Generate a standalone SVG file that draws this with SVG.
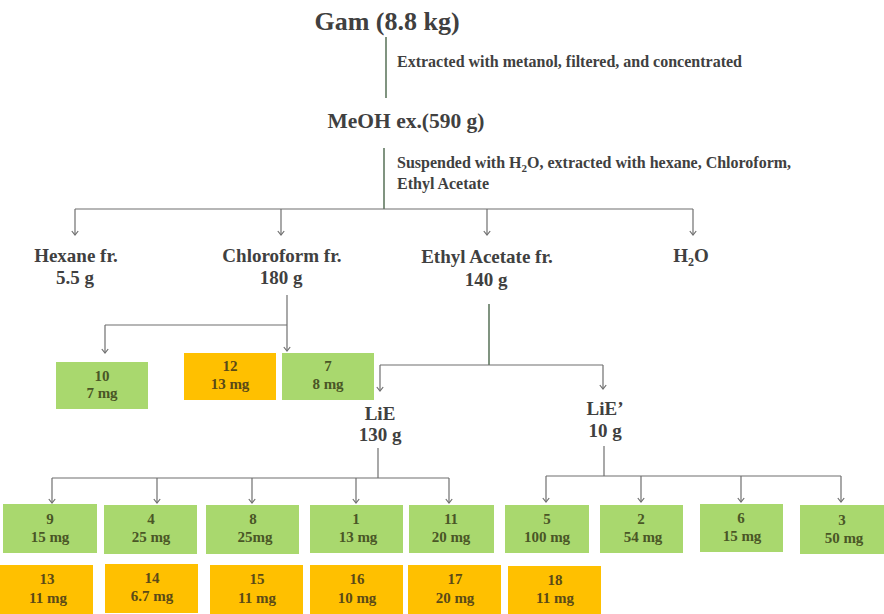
<svg xmlns="http://www.w3.org/2000/svg" width="884" height="614" viewBox="0 0 884 614" font-family="Liberation Serif, DejaVu Serif, serif">
<defs>
<marker id="ah" markerUnits="userSpaceOnUse" markerWidth="8" markerHeight="8" refX="7" refY="4" orient="auto" viewBox="0 0 8 8">
<path d="M3,0.8 L7,4 L3,7.2" fill="none" stroke="#6f6f6f" stroke-width="1.2"/>
</marker>
</defs>
<style>
text{font-family:'Liberation Serif','DejaVu Serif',serif;font-weight:700;fill:#404040;text-anchor:middle}
.note{text-anchor:start;font-size:16px}
.lbl{font-size:19px}
.bx{font-size:15px;fill:#4a5626}
.bo{font-size:15px;fill:#5a4a18}
.g{fill:#a9d86e}
.o{fill:#ffc000}
.main{stroke:#3c5a3c;stroke-width:1.3;fill:none}
.c{stroke:#6f6f6f;stroke-width:1.2;fill:none}
.a{stroke:#6f6f6f;stroke-width:1.2;fill:none;marker-end:url(#ah)}
</style>
<rect width="884" height="614" fill="#ffffff"/>
<g id="connectors">
<line class="main" x1="386" y1="37" x2="386" y2="98"/>
<line class="main" x1="384" y1="148" x2="384" y2="209"/>
<line class="c" x1="75" y1="209" x2="693" y2="209"/>
<line class="a" x1="75" y1="209" x2="75" y2="235"/>
<line class="a" x1="281" y1="209" x2="281" y2="235"/>
<line class="a" x1="487" y1="209" x2="487" y2="235"/>
<line class="a" x1="693" y1="209" x2="693" y2="235"/>
<line class="c" x1="287" y1="295" x2="287" y2="325"/>
<line class="c" x1="105" y1="325" x2="287" y2="325"/>
<line class="a" x1="287" y1="325" x2="287" y2="351"/>
<line class="a" x1="105" y1="325" x2="105" y2="353"/>
<line class="main" x1="489" y1="304" x2="489" y2="365"/>
<line class="c" x1="380" y1="365" x2="603" y2="365"/>
<line class="a" x1="380" y1="365" x2="380" y2="391"/>
<line class="a" x1="603" y1="365" x2="603" y2="389"/>
<line class="c" x1="378" y1="448" x2="378" y2="478"/>
<line class="c" x1="52" y1="478" x2="449" y2="478"/>
<line class="a" x1="52" y1="478" x2="52" y2="503"/>
<line class="a" x1="157" y1="478" x2="157" y2="503"/>
<line class="a" x1="252" y1="478" x2="252" y2="503"/>
<line class="a" x1="356" y1="478" x2="356" y2="503"/>
<line class="a" x1="449" y1="478" x2="449" y2="503"/>
<line class="c" x1="604" y1="446" x2="604" y2="476"/>
<line class="c" x1="546" y1="476" x2="841" y2="476"/>
<line class="a" x1="546" y1="476" x2="546" y2="502"/>
<line class="a" x1="641" y1="476" x2="641" y2="502"/>
<line class="a" x1="741" y1="476" x2="741" y2="502"/>
<line class="a" x1="841" y1="476" x2="841" y2="502"/>
</g>
<g id="gam"><text x="387" y="30" font-size="26">Gam (8.8 kg)</text></g>
<g id="note1"><text class="note" x="397" y="67">Extracted with metanol, filtered, and concentrated</text></g>
<g id="meoh"><text x="406" y="128" font-size="21.5">MeOH ex.(590 g)</text></g>
<g id="note2"><text class="note" x="397" y="168">Suspended with H<tspan font-size="11" dy="4">2</tspan><tspan dy="-4">O, extracted with hexane, Chloroform,</tspan></text><text class="note" x="397" y="189">Ethyl Acetate</text></g>
<g id="hexane"><text class="lbl" x="76" y="262">Hexane fr.</text><text class="lbl" x="75" y="284">5.5 g</text></g>
<g id="chloroform"><text class="lbl" x="282" y="262">Chloroform fr.</text><text class="lbl" x="281" y="284">180 g</text></g>
<g id="ethyl"><text class="lbl" x="487" y="263">Ethyl Acetate fr.</text><text class="lbl" x="486" y="286">140 g</text></g>
<g id="water"><text class="lbl" x="691" y="262">H<tspan font-size="12" dy="4">2</tspan><tspan dy="-4">O</tspan></text></g>
<g id="f10"><rect class="g" x="56" y="362" width="92" height="47"/><text class="bx" x="102" y="381">10</text><text class="bx" x="102" y="398">7  mg</text></g>
<g id="f12"><rect class="o" x="184" y="353" width="92" height="47"/><text class="bo" x="230" y="371">12</text><text class="bo" x="230" y="389">13  mg</text></g>
<g id="f7"><rect class="g" x="282" y="353" width="92" height="47"/><text class="bx" x="328" y="371">7</text><text class="bx" x="328" y="389">8 mg</text></g>
<g id="lie"><text class="lbl" x="380" y="420">LiE</text><text class="lbl" x="380" y="441">130 g</text></g>
<g id="lie2"><text class="lbl" x="605" y="415">LiE’</text><text class="lbl" x="605" y="437">10 g</text></g>
<g id="f9"><rect class="g" x="3" y="504" width="94" height="49"/><text class="bx" x="50" y="524">9</text><text class="bx" x="50" y="542">15 mg</text></g>
<g id="f4"><rect class="g" x="104" y="505" width="93" height="49"/><text class="bx" x="151" y="524">4</text><text class="bx" x="151" y="542">25 mg</text></g>
<g id="f8"><rect class="g" x="206" y="505" width="93" height="49"/><text class="bx" x="253" y="524">8</text><text class="bx" x="255" y="542">25mg</text></g>
<g id="f1"><rect class="g" x="310" y="505" width="93" height="48"/><text class="bx" x="356" y="524">1</text><text class="bx" x="358" y="542">13 mg</text></g>
<g id="f11"><rect class="g" x="409" y="505" width="85" height="48"/><text class="bx" x="451" y="524">11</text><text class="bx" x="451" y="542">20 mg</text></g>
<g id="f5"><rect class="g" x="505" y="505" width="84" height="48"/><text class="bx" x="547" y="524">5</text><text class="bx" x="547" y="542">100 mg</text></g>
<g id="f2"><rect class="g" x="600" y="505" width="83" height="48"/><text class="bx" x="641" y="524">2</text><text class="bx" x="643" y="542">54 mg</text></g>
<g id="f6"><rect class="g" x="700" y="504" width="83" height="48"/><text class="bx" x="741" y="523">6</text><text class="bx" x="742" y="541">15 mg</text></g>
<g id="f3"><rect class="g" x="800" y="505" width="84" height="49"/><text class="bx" x="842" y="525">3</text><text class="bx" x="844" y="543">50 mg</text></g>
<g id="f13"><rect class="o" x="0" y="565" width="93" height="49"/><text class="bo" x="47" y="584">13</text><text class="bo" x="48" y="603">11 mg</text></g>
<g id="f14"><rect class="o" x="105" y="564" width="93" height="49"/><text class="bo" x="152" y="583">14</text><text class="bo" x="152" y="601">6.7 mg</text></g>
<g id="f15"><rect class="o" x="210" y="565" width="93" height="49"/><text class="bo" x="257" y="584">15</text><text class="bo" x="257" y="603">11 mg</text></g>
<g id="f16"><rect class="o" x="310" y="565" width="93" height="49"/><text class="bo" x="357" y="584">16</text><text class="bo" x="357" y="603">10 mg</text></g>
<g id="f17"><rect class="o" x="408" y="565" width="93" height="49"/><text class="bo" x="455" y="584">17</text><text class="bo" x="455" y="603">20 mg</text></g>
<g id="f18"><rect class="o" x="508" y="566" width="93" height="48"/><text class="bo" x="555" y="585">18</text><text class="bo" x="555" y="603">11 mg</text></g>
</svg>
